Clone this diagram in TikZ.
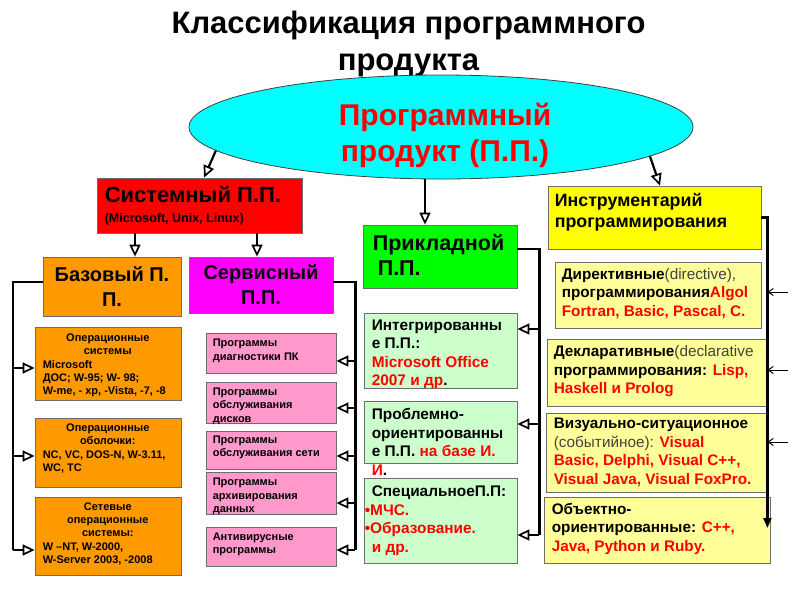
\documentclass[tikz,border=0pt]{standalone}
\usepackage{fontspec}
\setmainfont{Liberation Sans}
\usetikzlibrary{arrows.meta,shapes.geometric}
\definecolor{cE}{HTML}{00FFFF}
\definecolor{cSys}{HTML}{FF0000}
\definecolor{cOr}{HTML}{FF9900}
\definecolor{cMag}{HTML}{FF00FF}
\definecolor{cGr}{HTML}{00FF00}
\definecolor{cYe}{HTML}{FFFF00}
\definecolor{cPk}{HTML}{FF99CC}
\definecolor{cLg}{HTML}{CCFFCC}
\definecolor{cLy}{HTML}{FFFF99}
\definecolor{cBd}{HTML}{6E6E6E}
\definecolor{tRed}{HTML}{FF0000}
\definecolor{tGray}{HTML}{404040}
\newcommand\myfs[2]{\fontsize{#1}{#2}\selectfont}
\newcommand\rd[1]{\textcolor{tRed}{#1}}
\newcommand\gy[1]{\textcolor{tGray}{\mdseries #1}}
\begin{document}
\begin{tikzpicture}[x=1pt,y=-1pt,
  box/.style={draw=cBd, line width=0.8pt, inner sep=0pt, rectangle},
  txt/.style={inner sep=0pt, align=left},
  conn/.style={line width=2.2pt, draw=black},
  arr/.style={conn, -{Triangle[open, length=12pt, width=11pt, line width=1.7pt]}},
  farr/.style={conn, -{Triangle[length=10pt, width=8pt]}},
  sarr/.style={line width=1pt, draw=black, -{Straight Barb[length=5pt, width=7pt]}}]
\useasboundingbox (0,0) rectangle (800,600);

% title
\node[txt, align=center, anchor=north, font=\bfseries\myfs{31}{37}] (title) at (408.5,11) {Классификация программного\\продукта};

% ellipse
\node[ellipse, draw=black!75, line width=0.8pt, fill=cE, minimum width=504pt, minimum height=104pt, inner sep=0pt] (ell) at (441,127) {};
\node[txt, align=center, anchor=north, font=\bfseries\myfs{30}{36}, text=tRed] (ellt) at (445,103) {Программный\\продукт (П.П.)};

% level 1 boxes
\node[box, fill=cSys, minimum width=205pt, minimum height=55pt] (sys) at (199.5,205.5) {};
\node[txt, anchor=west, font=\bfseries\myfs{22}{25}] (syst) at ([xshift=8pt]sys.west) {Системный П.П.\\[-5.5pt]{\myfs{12.5}{15}(Microsoft, Unix, Linux)}};

\node[box, fill=cGr, minimum width=154pt, minimum height=63pt] (pri) at (440,256.5) {};
\node[txt, anchor=west, font=\bfseries\myfs{21.5}{25}] (prit) at ([xshift=10pt,yshift=2pt]pri.west) {Прикладной\\\hspace*{5pt}П.П.};

\node[box, fill=cYe, minimum width=213pt, minimum height=63pt] (ins) at (654.5,217.5) {};
\node[txt, anchor=west, font=\bfseries\myfs{17.8}{21}] (inst) at ([xshift=7pt,yshift=5pt]ins.west) {Инструментарий\\программирования};

% level 2 boxes
\node[box, fill=cOr, minimum width=138pt, minimum height=59pt] (baz) at (112,286.5) {};
\node[txt, align=center, font=\bfseries\myfs{20}{25}] (bazt) at (baz.center) {Базовый П.\\П.};

\node[box, fill=cMag, minimum width=144pt, minimum height=56pt] (ser) at (261,285) {};
\node[txt, align=center, font=\bfseries\myfs{20}{25}] (sert) at (ser.center) {Сервисный\\П.П.};

% orange boxes
\node[box, fill=cOr, minimum width=146pt, minimum height=73pt] (o1) at (108,363.5) {};
\node[txt, anchor=west, font=\bfseries\myfs{11}{13.3}] (o1t) at ([xshift=8pt,yshift=-2pt]o1.west) {\makebox[130pt]{Операционные}\\\makebox[130pt]{системы}\\Microsoft\\ДОС; W-95; W- 98;\\W-me, - xp, -Vista, -7, -8};
\node[box, fill=cOr, minimum width=146pt, minimum height=69pt] (o2) at (108,452.5) {};
\node[txt, anchor=west, font=\bfseries\myfs{11}{13.3}] (o2t) at ([xshift=8pt,yshift=4pt]o2.west) {\makebox[130pt]{Операционные}\\\makebox[130pt]{оболочки:}\\NC, VC, DOS-N, W-3.11,\\WC, TC};
\node[box, fill=cOr, minimum width=146pt, minimum height=78pt] (o3) at (108,536) {};
\node[txt, anchor=west, font=\bfseries\myfs{11}{13.3}] (o3t) at ([xshift=8pt,yshift=2pt]o3.west) {\makebox[130pt]{Сетевые}\\\makebox[130pt]{операционные}\\\makebox[130pt]{системы:}\\W –NT, W-2000,\\W-Server 2003, -2008};

% pink boxes
\node[box, fill=cPk, minimum width=130pt, minimum height=40pt] (p1) at (271,353) {};
\node[txt, anchor=west, font=\bfseries\myfs{11}{13.5}] (p1t) at ([xshift=7pt,yshift=2pt]p1.west) {Программы\\диагностики ПК};
\node[box, fill=cPk, minimum width=130pt, minimum height=41pt] (p2) at (271,402.5) {};
\node[txt, anchor=west, font=\bfseries\myfs{11}{13.5}] (p2t) at ([xshift=7pt,yshift=-3.5pt]p2.west) {Программы\\обслуживания\\дисков};
\node[box, fill=cPk, minimum width=130pt, minimum height=38pt] (p3) at (271,450) {};
\node[txt, anchor=west, font=\bfseries\myfs{11}{13.5}] (p3t) at ([xshift=7pt,yshift=2.5pt]p3.west) {Программы\\обслуживания сети};
\node[box, fill=cPk, minimum width=130pt, minimum height=42pt] (p4) at (271,493) {};
\node[txt, anchor=west, font=\bfseries\myfs{11}{13.5}] (p4t) at ([xshift=7pt,yshift=-3.5pt]p4.west) {Программы\\архивирования\\данных};
\node[box, fill=cPk, minimum width=130pt, minimum height=39pt] (p5) at (271,546.5) {};
\node[txt, anchor=west, font=\bfseries\myfs{11}{13.5}] (p5t) at ([xshift=7pt,yshift=2pt]p5.west) {Антивирусные\\программы};

% light green boxes
\node[box, fill=cLg, minimum width=153pt, minimum height=75pt] (g1) at (440.5,350.5) {};
\node[txt, anchor=west, font=\bfseries\myfs{15.4}{18.5}] (g1t) at ([xshift=8pt,yshift=-4pt]g1.west) {Интегрированны\\е П.П.:\\\rd{Microsoft Office}\\\rd{2007 и др}.};
\node[box, fill=cLg, minimum width=153pt, minimum height=62pt] (g2) at (440.5,432) {};
\node[txt, anchor=west, font=\bfseries\myfs{15.4}{18.5}] (g2t) at ([xshift=8pt,yshift=-10pt]g2.west) {Проблемно-\\ориентированны\\е П.П. \rd{на базе И.}\\\rd{И}.};
\node[box, fill=cLg, minimum width=153pt, minimum height=85pt] (g3) at (440.5,520.5) {};
\node[txt, anchor=west, font=\bfseries\myfs{15.4}{18.5}] (g3t) at ([xshift=8pt]g3.west) {СпециальноеП.П:\\\hspace*{-7pt}\rd{•МЧС.}\\\hspace*{-7pt}\rd{•Образование.}\\\rd{и др.}};

% light yellow boxes
\node[box, fill=cLy, minimum width=206pt, minimum height=66pt] (y1) at (658,295) {};
\node[txt, anchor=west, font=\bfseries\myfs{15.3}{18.5}] (y1t) at ([xshift=7pt,yshift=1.5pt]y1.west) {Директивные\gy{(directive),}\\программирования\rd{Algol}\\\rd{Fortran, Basic, Pascal, C.}};
\node[box, fill=cLy, minimum width=219pt, minimum height=67pt] (y2) at (656.5,372.5) {};
\node[txt, anchor=west, font=\bfseries\myfs{15.3}{18.5}] (y2t) at ([xshift=7pt,yshift=1pt]y2.west) {Декларативные\gy{(declarative}\\программирования: \rd{Lisp,}\\\rd{Haskell и Prolog}};
\node[box, fill=cLy, minimum width=220pt, minimum height=79pt] (y3) at (656,452.5) {};
\node[txt, anchor=west, font=\bfseries\myfs{15.3}{18.5}] (y3t) at ([xshift=8pt]y3.west) {Визуально-ситуационное\\\gy{(событийное):} \rd{Visual}\\\rd{Basic, Delphi, Visual C++,}\\\rd{Visual Java, Visual FoxPro.}};
\node[box, fill=cLy, minimum width=226pt, minimum height=66pt] (y4) at (657,530) {};
\node[txt, anchor=west, font=\bfseries\myfs{15.3}{18.5}] (y4t) at ([xshift=8pt,yshift=1.5pt]y4.west) {Объектно-\\ориентированные: \rd{C++,}\\\rd{Java, Python и Ruby.}};

% connectors from ellipse
\draw[arr] (ell.186.5) -- ([xshift=4.5pt]sys.north);
\draw[arr] ([xshift=-15pt]pri.north |- ell.south) -- ([xshift=-15pt]pri.north);
\draw[arr] (ell.-8.3) -- ([xshift=5.5pt]ins.north);

% from system
\draw[arr] ([xshift=23pt]baz.north |- sys.south) -- ([xshift=23pt]baz.north);
\draw[arr] ([xshift=-4pt]ser.north |- sys.south) -- ([xshift=-4pt]ser.north);

% base bracket
\draw[conn] ([yshift=4.5pt]baz.west) -| ([xshift=-22pt,yshift=-14pt]o3.west);
\draw[arr] ([xshift=-22pt,yshift=-4.5pt]o1.west) -- ([yshift=-4.5pt]o1.west);
\draw[arr] ([xshift=-22pt,yshift=-3.5pt]o2.west) -- ([yshift=-3.5pt]o2.west);
\draw[arr] ([xshift=-22pt,yshift=-14pt]o3.west) -- ([yshift=-14pt]o3.west);

% service bracket
\draw[conn] ([yshift=3pt]ser.east) -| ([xshift=19pt,yshift=-3.5pt]p5.east);
\draw[arr] ([xshift=19pt,yshift=-8pt]p1.east) -- ([yshift=-8pt]p1.east);
\draw[arr] ([xshift=19pt,yshift=-5.5pt]p2.east) -- ([yshift=-5.5pt]p2.east);
\draw[arr] ([xshift=19pt,yshift=-6pt]p3.east) -- ([yshift=-6pt]p3.east);
\draw[arr] ([xshift=19pt,yshift=-10pt]p4.east) -- ([yshift=-10pt]p4.east);
\draw[arr] ([xshift=19pt,yshift=-3.5pt]p5.east) -- ([yshift=-3.5pt]p5.east);

% applied bracket
\draw[conn] ([yshift=7.5pt]pri.east) -| ([xshift=22pt,yshift=-14.5pt]g3.east);
\draw[arr] ([xshift=22pt,yshift=21.5pt]g1.east) -- ([yshift=21.5pt]g1.east);
\draw[arr] ([xshift=22pt,yshift=8pt]g2.east) -- ([yshift=8pt]g2.east);
\draw[arr] ([xshift=22pt,yshift=-14.5pt]g3.east) -- ([yshift=-14.5pt]g3.east);

% tools bracket
\coordinate (iv) at ([xshift=-3pt,yshift=2pt]y4.east);
\draw[farr] (ins.east) -| (iv);
\coordinate (s1) at (788,292);
\coordinate (s2) at (788,370);
\coordinate (s3) at (788,442);
\draw[sarr] (s1) -- (s1 -| iv);
\draw[sarr] (s2) -- (s2 -| iv);
\draw[sarr] (s3) -- (s3 -| iv);
\end{tikzpicture}
\end{document}
